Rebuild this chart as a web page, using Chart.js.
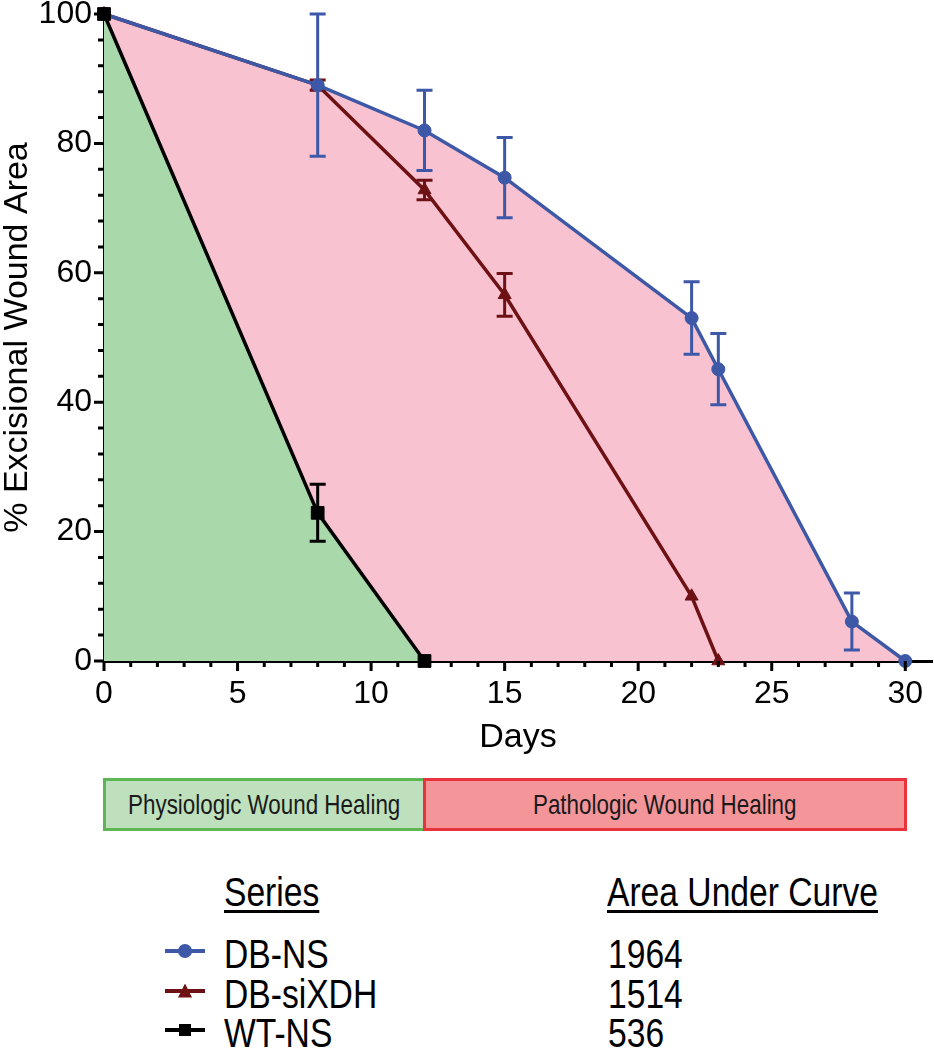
<!DOCTYPE html>
<html>
<head>
<meta charset="utf-8">
<script src="https://cdn.jsdelivr.net/npm/chart.js@4.4.1/dist/chart.umd.min.js"></script>
<style>
    body { margin: 0; background: #fff; font-family: 'Liberation Sans', Arial, Helvetica, sans-serif; color: #000; }
    #wrap { position: relative; width: 934px; height: 1050px; overflow: hidden; }
    #plot { position: absolute; left: 0; top: 0; }
    .phase { position: absolute; box-sizing: border-box; border: 3px solid; display: flex; align-items: center; justify-content: center; font-size: 28px; color: #1a1a1a; }
    .phase span { display: inline-block; transform: scaleX(0.8); white-space: nowrap; }
    .cell { position: absolute; font-size: 41px; line-height: 41px; white-space: nowrap; transform: scaleX(0.82); transform-origin: left center; }
    .head { text-decoration: underline; text-decoration-thickness: 3px; text-underline-offset: 4px; }
    .mk { position: absolute; }
</style>
</head>
<body>
<div id="wrap">
    <canvas id="plot" width="934" height="780"></canvas>
</div>
<script>
// days are the x values, means are % wound area, errs are the +/- bar sizes
const dbNsDays = [0, 8, 12, 15, 22, 23, 28, 30];
const dbNsMean = [100, 89, 82, 74.7, 53, 45.1, 6.1, 0];
const dbNsErr = [0, 11, 6.2, 6.2, 5.6, 5.5, 4.4, 0];

const dbSiDays = [0, 8, 12, 15, 22, 23];
const dbSiMean = [100, 89, 72.8, 56.6, 10, 0];
const dbSiErr = [0, 0.8, 1.5, 3.3, 0, 0];

const wtNsDays = [0, 8, 12];
const wtNsMean = [100, 22.9, 0];
const wtNsErr = [0, 4.4, 0];

const xTicks = [0, 5, 10, 15, 20, 25, 30];
const yTicks = [0, 20, 40, 60, 80, 100];

const phaseLabels = ['Physiologic Wound Healing', 'Pathologic Wound Healing'];
const phaseStart = [0, 12];
const phaseEnd = [12, 30];

const seriesNames = ['DB-NS', 'DB-siXDH', 'WT-NS'];
const aucValues = [1964, 1514, 536];

const BLUE = '#3e58a8';
const MAROON = '#6e1114';
const BLACK = '#000000';

function points(days, vals) {
    return days.map((d, i) => ({x: d, y: vals[i]}));
}

// dataset 0 is drawn last: black on top, then blue, then maroon
const errors = [wtNsErr, dbNsErr, dbSiErr];

const errorBars = {
    id: 'errorBars',
    afterDatasetDraw(chart, args) {
        let errs = errors[args.index];
        let ds = chart.data.datasets[args.index];
        let ctx = chart.ctx, x = chart.scales.x, y = chart.scales.y;
        ctx.save();
        ctx.strokeStyle = ds.borderColor;
        ctx.lineWidth = 3;
        ds.data.forEach((p, i) => {
            if (!errs[i]) return;
            let px = x.getPixelForValue(p.x);
            let top = y.getPixelForValue(p.y + errs[i]);
            let bot = y.getPixelForValue(p.y - errs[i]);
            ctx.beginPath();
            ctx.moveTo(px, top); ctx.lineTo(px, bot);
            ctx.moveTo(px - 8, top); ctx.lineTo(px + 8, top);
            ctx.moveTo(px - 8, bot); ctx.lineTo(px + 8, bot);
            ctx.stroke();
        });
        ctx.restore();
    }
};

const axisTicks = {
    id: 'axisTicks',
    afterDraw(chart) {
        let ctx = chart.ctx, x = chart.scales.x, y = chart.scales.y;
        ctx.save();
        ctx.strokeStyle = '#000';
        ctx.lineWidth = 3;
        ctx.beginPath();
        for (let d = 0; d <= 30; d++) {
            let px = x.getPixelForValue(d);
            ctx.moveTo(px, y.bottom);
            ctx.lineTo(px, y.bottom + (d % 5 === 0 ? 10 : 6));
        }
        for (let v = 0; v <= 100; v += 4) {
            let py = y.getPixelForValue(v);
            ctx.moveTo(x.left, py);
            ctx.lineTo(x.left - (v % 20 === 0 ? 10 : 6), py);
        }
        ctx.stroke();
        ctx.restore();
    }
};

function zeroPadding(scale) {
    scale.paddingTop = 0;
    scale.paddingBottom = 0;
    scale.paddingLeft = 0;
    scale.paddingRight = 0;
}

Chart.defaults.font.family = "'Liberation Sans', Arial, Helvetica, sans-serif";
Chart.defaults.color = '#000';

const chart = new Chart(document.getElementById('plot'), {
    type: 'line',
    data: {
        datasets: [
            {
                label: 'WT-NS', data: points(wtNsDays, wtNsMean),
                borderColor: BLACK, backgroundColor: '#a9d8ab', fill: 'origin',
                pointStyle: 'rect', pointRadius: 9, pointBackgroundColor: BLACK, pointBorderColor: BLACK
            },
            {
                label: 'DB-NS', data: points(dbNsDays, dbNsMean),
                borderColor: BLUE, backgroundColor: '#f8c2d0', fill: 'origin',
                pointStyle: 'circle', pointRadius: 6.5, pointBackgroundColor: BLUE, pointBorderColor: BLUE
            },
            {
                label: 'DB-siXDH', data: points(dbSiDays, dbSiMean),
                borderColor: MAROON, backgroundColor: MAROON, fill: false,
                pointStyle: 'triangle', pointRadius: 7.5, pointBackgroundColor: MAROON, pointBorderColor: MAROON
            }
        ]
    },
    options: {
        responsive: false,
        animation: false,
        clip: 12,
        layout: {autoPadding: false, padding: {top: 14, right: 2, left: 0, bottom: 0}},
        elements: {line: {borderWidth: 3.5, tension: 0}, point: {borderWidth: 1}},
        plugins: {
            legend: {display: false},
            tooltip: {enabled: false},
            filler: {drawTime: 'beforeDatasetsDraw'}
        },
        scales: {
            x: {
                type: 'linear', min: 0, max: 31,
                grid: {display: false, drawTicks: false},
                border: {display: true, color: '#000', width: 3},
                afterBuildTicks: s => { s.ticks = xTicks.map(v => ({value: v})); },
                ticks: {font: {size: 32}, padding: 14, maxRotation: 0, autoSkip: false},
                title: {display: true, text: 'Days', font: {size: 34}, padding: {top: 0, bottom: 22}},
                afterFit: s => { s.height = 119; zeroPadding(s); }
            },
            y: {
                min: 0, max: 100,
                grid: {display: false, drawTicks: false},
                border: {display: true, color: '#000', width: 3},
                afterBuildTicks: s => { s.ticks = yTicks.map(v => ({value: v})); },
                ticks: {font: {size: 32}, padding: 12},
                title: {display: true, text: '% Excisional Wound Area', font: {size: 34, lineHeight: 1.05}, padding: 0},
                afterFit: s => { s.width = 104; zeroPadding(s); }
            }
        }
    },
    plugins: [errorBars, axisTicks]
});

// phase boxes under the axis, placed with the x scale
const wrap = document.getElementById('wrap');
const xs = chart.scales.x;
const phaseStyles = [
    {fill: '#bee0bc', border: '#5db553'},
    {fill: '#f4959a', border: '#e8323c'}
];
phaseLabels.forEach((label, i) => {
    let left = xs.getPixelForValue(phaseStart[i]) - 1.5;
    let right = xs.getPixelForValue(phaseEnd[i]) + 1.5;
    let box = document.createElement('div');
    box.className = 'phase';
    box.style.left = left + 'px';
    box.style.width = (right - left) + 'px';
    box.style.top = '778px';
    box.style.height = '53px';
    box.style.background = phaseStyles[i].fill;
    box.style.borderColor = phaseStyles[i].border;
    box.innerHTML = '<span>' + label + '</span>';
    wrap.appendChild(box);
});

function addCell(text, left, top, cls) {
    let el = document.createElement('div');
    el.className = 'cell' + (cls ? ' ' + cls : '');
    el.style.left = left + 'px';
    el.style.top = top + 'px';
    el.textContent = text;
    wrap.appendChild(el);
}

function addMarker(style, color, cy) {
    let line = document.createElement('div');
    line.className = 'mk';
    Object.assign(line.style, {left: '165px', width: '40px', top: (cy - 2) + 'px', height: '4px', background: color});
    wrap.appendChild(line);
    let m = document.createElement('div');
    m.className = 'mk';
    Object.assign(m.style, {left: '178px', top: (cy - 7) + 'px', width: '14px', height: '14px', background: color});
    if (style === 'circle') m.style.borderRadius = '50%';
    if (style === 'triangle') m.style.clipPath = 'polygon(50% 0, 100% 100%, 0 100%)';
    if (style === 'rect') {
        Object.assign(m.style, {left: '179px', top: (cy - 6) + 'px', width: '12px', height: '12px'});
    }
    wrap.appendChild(m);
}

addCell('Series', 224, 872, 'head');
addCell('Area Under Curve', 607, 872, 'head');

const markerStyles = ['circle', 'triangle', 'rect'];
const markerColors = [BLUE, MAROON, BLACK];
seriesNames.forEach((name, i) => {
    let top = 934 + 39.5 * i;
    addMarker(markerStyles[i], markerColors[i], top + 17);
    addCell(name, 224, top);
    addCell(String(aucValues[i]), 608, top);
});
</script>
</body>
</html>
